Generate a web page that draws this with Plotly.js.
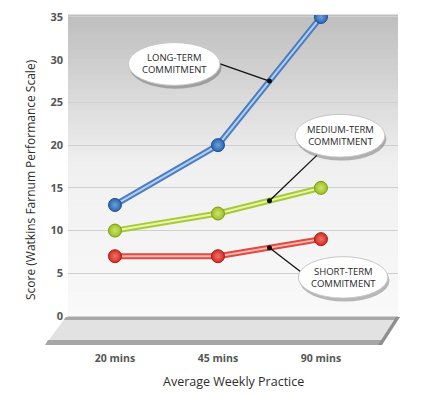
<!DOCTYPE html>
<html><head><meta charset="utf-8">
<script src="https://cdn.plot.ly/plotly-3.0.1.min.js"></script>
<style>html,body{margin:0;padding:0;background:#fff}</style>
</head><body><div id="chart" style="width:434px;height:394px"></div>
<script>
// ---- data ----
const practice = ['20 mins', '45 mins', '90 mins'];
const longTerm = [13, 20, 35];
const mediumTerm = [10, 12, 15];
const shortTerm = [7, 7, 9];
const yTickVals = [0, 5, 10, 15, 20, 25, 30, 35];
const seriesNames = ['LONG-TERM<br>COMMITMENT', 'MEDIUM-TERM<br>COMMITMENT', 'SHORT-TERM<br>COMMITMENT'];

// ---- styles ----
const W = 434, H = 394;
const M = {l: 68, r: 36, t: 15, b: 76};
const fx = px => (px - M.l) / (W - M.l - M.r);
const fy = py => (H - M.b - py) / (H - M.t - M.b);

const styles = [
  {outer: '#4a7dc2', inner: '#b4cff0', mk: '#2a66b0', mkc: '#6f9fd8', mkl: '#1d4f8f'},
  {outer: '#a9c935', inner: '#e8f4b0', mk: '#9cbf22', mkc: '#cfe370', mkl: '#7a9a14'},
  {outer: '#e04a42', inner: '#f9b8b0', mk: '#d42c24', mkc: '#ee7368', mkl: '#a81c16'}
];
const series = [longTerm, mediumTerm, shortTerm];

const traces = [];
series.forEach((vals, i) => {
  const s = styles[i];
  traces.push({x: practice, y: vals, type: 'scatter', mode: 'lines', line: {color: s.outer, width: 6}, hoverinfo: 'skip', showlegend: false});
  traces.push({x: practice, y: vals, type: 'scatter', mode: 'lines', line: {color: s.inner, width: 2}, hoverinfo: 'skip', showlegend: false});
});
series.forEach((vals, i) => {
  const s = styles[i];
  traces.push({x: practice, y: vals, type: 'scatter', mode: 'markers', name: seriesNames[i].replace('<br>', ' '),
    marker: {size: 13, color: s.mk, gradient: {type: 'radial', color: s.mkc}, line: {color: s.mkl, width: 1}}, showlegend: false});
});

const shapes = [];
// background gradient
const N = 60;
for (let k = 0; k < N; k++) {
  const t = (k + 0.5) / N;
  let v;
  if (t < 0.5) v = 190 + (240 - 190) * (t / 0.5);
  else v = 240 + (249 - 240) * ((t - 0.5) / 0.5);
  v = Math.round(v);
  shapes.push({type: 'rect', xref: 'paper', yref: 'paper', x0: 0, x1: 1, y0: 1 - (k + 1) / N, y1: 1 - k / N + 0.002,
    fillcolor: `rgb(${v},${v},${v})`, line: {width: 0}, layer: 'below'});
}
// floor
shapes.push({type: 'path', xref: 'paper', yref: 'paper', layer: 'above',
  path: `M ${fx(66)} ${fy(317)} L ${fx(399)} ${fy(317)} L ${fx(380)} ${fy(345)} L ${fx(45)} ${fy(345)} Z`,
  fillcolor: '#e2e2e2', line: {width: 0}});
shapes.push({type: 'path', xref: 'paper', yref: 'paper', layer: 'above',
  path: `M ${fx(66)} ${fy(317)} L ${fx(399)} ${fy(317)} L ${fx(397)} ${fy(320)} L ${fx(63.5)} ${fy(320)} Z`,
  fillcolor: '#a8a8a8', line: {width: 0}});
shapes.push({type: 'path', xref: 'paper', yref: 'paper', layer: 'above',
  path: `M ${fx(48)} ${fy(340)} L ${fx(384)} ${fy(340)} L ${fx(380)} ${fy(345)} L ${fx(45)} ${fy(345)} Z`,
  fillcolor: '#a6a6a6', line: {width: 0}});
shapes.push({type: 'path', xref: 'paper', yref: 'paper', layer: 'above',
  path: `M ${fx(396)} ${fy(317)} L ${fx(400)} ${fy(317)} L ${fx(382)} ${fy(345)} L ${fx(378)} ${fy(345)} Z`,
  fillcolor: '#8e8e8e', line: {width: 0}});

// callouts (ellipse boxes, in data coordinates: category index / score)
const callouts = [
  {x0: 0.13, x1: 1.02, y0: 27.0, y1: 32.0, tx: 0.575, ty: 29.6, lx: 1.0, ly: 29.6, si: 0},
  {x0: 1.75, x1: 2.62, y0: 18.6, y1: 23.6, tx: 2.185, ty: 21.1, lx: 1.96, ly: 18.8, si: 1},
  {x0: 1.78, x1: 2.65, y0: 2.1, y1: 6.95, tx: 2.215, ty: 4.55, lx: 1.80, ly: 5.2, si: 2}
];
const annotations = [];
callouts.forEach(c => {
  const vals = series[c.si];
  const dx = 1.5, dy = (vals[1] + vals[2]) / 2;
  shapes.push({type: 'line', xref: 'x', yref: 'y', x0: c.lx, y0: c.ly, x1: dx, y1: dy, line: {color: '#111', width: 1.3}, layer: 'above'});
  shapes.push({type: 'circle', xref: 'x', yref: 'y', xsizemode: 'pixel', ysizemode: 'pixel', xanchor: dx, yanchor: dy,
    x0: -2.5, x1: 2.5, y0: -2.5, y1: 2.5, fillcolor: '#111', line: {width: 0}, layer: 'above'});
  shapes.push({type: 'circle', xref: 'x', yref: 'y', x0: c.x0 + 0.015, x1: c.x1 + 0.015, y0: c.y0 - 0.4, y1: c.y1 - 0.4,
    fillcolor: 'rgba(60,60,60,0.35)', line: {width: 0}, layer: 'above'});
  shapes.push({type: 'circle', xref: 'x', yref: 'y', x0: c.x0, x1: c.x1, y0: c.y0, y1: c.y1,
    fillcolor: '#ffffff', line: {color: '#c8c8c8', width: 1}, layer: 'above'});
  annotations.push({xref: 'x', yref: 'y', x: c.tx, y: c.ty, text: seriesNames[c.si], showarrow: false,
    font: {family: 'Open Sans', size: 9.5, color: '#2a2a2a'}, align: 'center'});
});

annotations.push({xref: 'paper', yref: 'paper', x: fx(30), y: fy(180), xanchor: 'center', yanchor: 'middle',
  text: 'Score (Watkins Farnum Performance Scale)',
  textangle: -90, showarrow: false, font: {family: 'Open Sans', size: 12, color: '#2e2e2e'}});
annotations.push({xref: 'paper', yref: 'paper', x: fx(233), y: fy(382), xanchor: 'center', yanchor: 'middle',
  text: 'Average Weekly Practice',
  showarrow: false, font: {family: 'Open Sans', size: 12.5, color: '#2e2e2e'}});

const layout = {
  width: W, height: H,
  margin: M,
  paper_bgcolor: '#ffffff', plot_bgcolor: 'rgba(0,0,0,0)',
  showlegend: false,
  xaxis: {type: 'category', range: [-0.456, 2.748], showgrid: false, zeroline: false, showline: false, ticks: '',
    tickfont: {family: 'Open Sans', size: 10.5, color: '#555', weight: 'bold'}, ticklabelstandoff: 32, fixedrange: true},
  yaxis: {range: [-0.23, 35.23], tickvals: yTickVals, showgrid: true, gridcolor: '#cfcfcf', gridwidth: 1, zeroline: false,
    showline: false, ticks: '', tickfont: {family: 'Open Sans', size: 11, color: '#555', weight: 'bold'}, ticklabelstandoff: 4, fixedrange: true},
  shapes: shapes,
  annotations: annotations
};

Plotly.newPlot('chart', traces, layout, {displayModeBar: false, staticPlot: true});
</script>
</body></html>
